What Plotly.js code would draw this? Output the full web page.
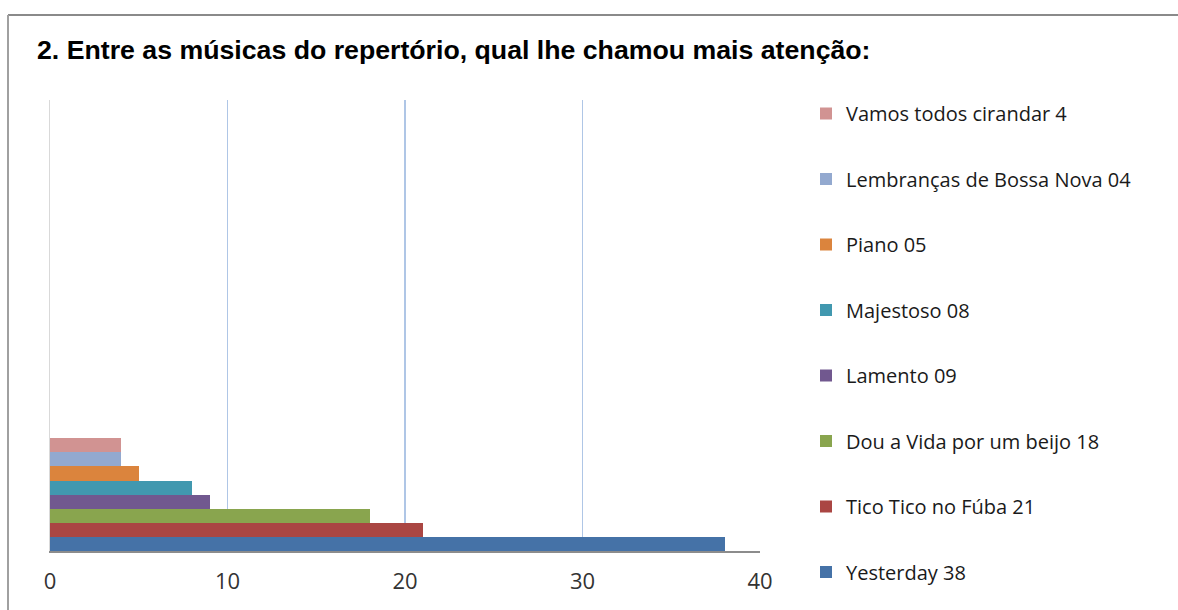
<!DOCTYPE html>
<html>
<head>
<meta charset="utf-8">
<script src="https://cdn.plot.ly/plotly-3.0.1.min.js"></script>
<style>html,body{margin:0;padding:0;background:#fff;}#chart{width:1178px;height:610px;}</style>
</head>
<body>
<div id="chart"></div>
<script>
// Series listed bottom-to-top (first trace drawn lowest)
const songs = ["Yesterday 38", "Tico Tico no Fúba 21", "Dou a Vida por um beijo 18", "Lamento 09", "Majestoso 08", "Piano 05", "Lembranças de Bossa Nova 04", "Vamos todos cirandar 4"];
const votes = [38, 21, 18, 9, 8, 5, 4, 4];
const colors = ["#4572A7", "#AA4643", "#89A54E", "#71588F", "#4198AF", "#DB843D", "#93A9CF", "#D19392"];
const xTicks = [0, 10, 20, 30, 40];
const titleText = "2. Entre as músicas do repertório, qual lhe chamou mais atenção:";

const traces = songs.map((name, i) => ({
  type: "bar",
  orientation: "h",
  name: name,
  x: [votes[i]],
  y: [0],
  legendgroup: "g" + i,
  legendrank: 100 - i,
  marker: {color: colors[i], line: {width: 0}},
  hoverinfo: "x+name"
}));

const layout = {
  width: 1178,
  height: 610,
  paper_bgcolor: "#ffffff",
  plot_bgcolor: "#ffffff",
  margin: {l: 50, r: 418, t: 100, b: 59},
  barmode: "group",
  bargap: 0,
  bargroupgap: 0,
  title: {
    text: "<b>" + titleText + "</b>",
    font: {family: "Liberation Sans, Arial, sans-serif", size: 26.7, color: "#000"},
    x: 37 / 1178, xanchor: "left", xref: "container",
    y: 1 - 50 / 610, yanchor: "middle", yref: "container"
  },
  xaxis: {
    range: [0, 40],
    tickvals: xTicks,
    ticktext: xTicks.map(String),
    showgrid: true,
    gridcolor: "#AFC6E6",
    gridwidth: 1.5,
    zeroline: false,
    showline: true,
    linecolor: "#8c8c8c",
    linewidth: 1.5,
    ticks: "outside",
    ticklen: 10,
    tickcolor: "rgba(0,0,0,0)",
    tickfont: {family: "Open Sans, Lato, sans-serif", size: 22, color: "#333"},
    fixedrange: true
  },
  yaxis: {
    range: [-0.5, 3.5],
    showticklabels: false,
    showgrid: false,
    zeroline: false,
    showline: true,
    linecolor: "#d9d9d9",
    linewidth: 1.5,
    ticks: "",
    fixedrange: true
  },
  showlegend: true,
  legend: {
    x: (806 - 50) / 710, xanchor: "left",
    y: (551 - 94) / 451, yanchor: "top",
    traceorder: "grouped",
    tracegroupgap: 36.5,
    itemwidth: 30,
    maxheight: 600,
    font: {family: "Open Sans, Lato, sans-serif", size: 20, color: "#1a1a1a"},
    bgcolor: "rgba(0,0,0,0)"
  },
  shapes: [
    {type: "line", xref: "paper", yref: "paper", x0: (8 - 50) / 710, x1: (1180 - 50) / 710, y0: (551 - 15) / 451, y1: (551 - 15) / 451, line: {color: "#8a8a8a", width: 2}},
    {type: "line", xref: "paper", yref: "paper", x0: (8 - 50) / 710, x1: (8 - 50) / 710, y0: (551 - 15) / 451, y1: (551 - 612) / 451, line: {color: "#a0a0a0", width: 2}}
  ]
};

Plotly.newPlot("chart", traces, layout, {displayModeBar: false, staticPlot: true});
</script>
</body>
</html>
